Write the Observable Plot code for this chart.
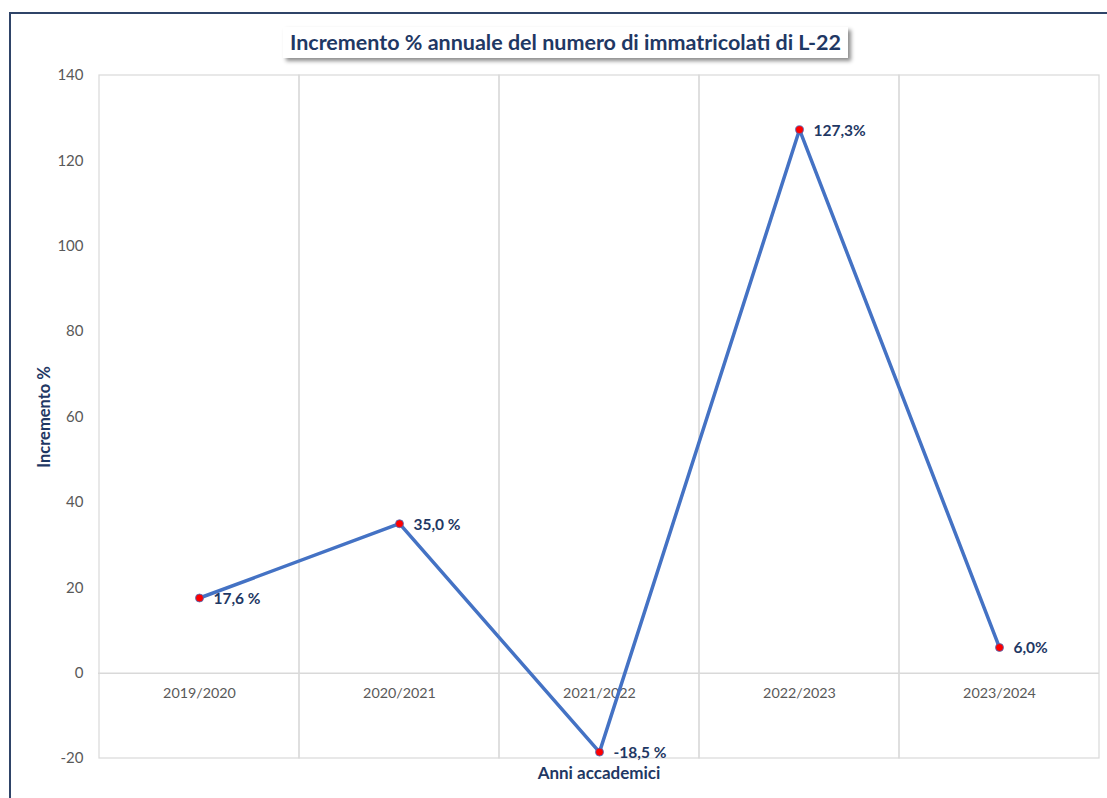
<!DOCTYPE html>
<html>
<head>
<meta charset="utf-8">
<script src="https://cdn.jsdelivr.net/npm/d3@7"></script>
<script src="https://cdn.jsdelivr.net/npm/@observablehq/plot@0.6"></script>
<style>
  html, body { margin: 0; padding: 0; background: #fff; }
  body { width: 1107px; height: 798px; position: relative; overflow: hidden; font-family: Lato, "Open Sans", sans-serif; }
  #frame { position: absolute; left: 9px; top: 12px; width: 1200px; height: 900px; border-left: 2px solid #2f4468; border-top: 2px solid #2f4468; }
  #titleRow { position: absolute; left: 0; top: 0; width: 1107px; height: 62px; }
  #title { position: absolute; left: 283px; top: 27px; width: 565px; height: 31px; background: #fff;
           box-shadow: 3px 3px 4px rgba(0,0,0,0.45); color: #1f3864; font-weight: bold; font-size: 21.5px;
           line-height: 31px; text-align: center; white-space: nowrap; }
  #chart { position: absolute; left: 0; top: 62px; }
</style>
</head>
<body>
<div id="frame"></div>
<div id="titleRow"><div id="title">Incremento % annuale del numero di immatricolati di L-22</div></div>
<div id="chart"></div>
<script>
const years = ["2019/2020", "2020/2021", "2021/2022", "2022/2023", "2023/2024"];
const increments = [17.6, 35.0, -18.5, 127.3, 6.0];
const valueLabels = ["17,6 %", "35,0 %", "-18,5 %", "127,3%", "6,0%"];
const yTicks = [-20, 0, 20, 40, 60, 80, 100, 120, 140];
const yLabel = "Incremento %";
const xLabel = "Anni accademici";

const data = years.map((y, i) => ({year: y, value: increments[i], label: valueLabels[i]}));

const navy = "#1f3864";
const grid = "#d9d9d9";
const tickGray = "#595959";

const plot = Plot.plot({
  width: 1107,
  height: 736,
  marginLeft: 98,
  marginRight: 8,
  marginTop: 13,
  marginBottom: 40,
  style: {fontFamily: "Lato, 'Open Sans', sans-serif", background: "transparent", overflow: "visible"},
  x: {type: "band", domain: years, padding: 0, axis: null},
  y: {domain: [-20, 140], ticks: yTicks, axis: null},
  marks: [
    Plot.barY(years, {x: d => d, y1: -20, y2: 140, fill: "none", stroke: grid, strokeWidth: 1.2, inset: 0}),
    Plot.ruleY([0], {stroke: grid, strokeWidth: 1.5}),
    Plot.axisY(yTicks, {tickSize: 0, tickPadding: 15, fontSize: 15, fill: tickGray, label: null, tickFormat: d => String(d)}),
    Plot.text(years, {x: d => d, y: 0, dy: 20, text: d => d, fontSize: 14.3, fill: tickGray}),
    Plot.line(data, {x: "year", y: "value", stroke: "#4472c4", strokeWidth: 3.5, strokeLinejoin: "round"}),
    Plot.dot(data, {x: "year", y: "value", r: 4, fill: "#ff0000", stroke: "#4472c4", strokeWidth: 0.8}),
    Plot.text(data, {x: "year", y: "value", text: "label", textAnchor: "start", dx: 14, dy: 1,
                     fontSize: 15.5, fontWeight: "bold", fill: navy}),
    Plot.text([yLabel], {text: d => d, frameAnchor: "left", textAnchor: "middle", rotate: -90, dx: -54,
                         fontSize: 16.5, fontWeight: "bold", fill: navy}),
    Plot.text([xLabel], {text: d => d, frameAnchor: "bottom", textAnchor: "middle", lineAnchor: "middle", dy: 15,
                         fontSize: 17, fontWeight: "bold", fill: navy})
  ]
});
document.getElementById("chart").appendChild(plot);
</script>
</body>
</html>
